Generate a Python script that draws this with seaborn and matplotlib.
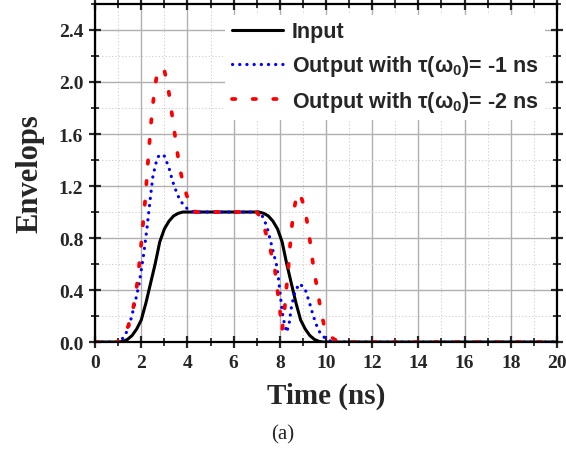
import numpy as np
import pandas as pd
import matplotlib
matplotlib.use("Agg")
import matplotlib.pyplot as plt
import seaborn as sns
from matplotlib.ticker import MultipleLocator

# Input envelope
t_in = [0, 1.0, 1.2, 1.4, 1.6, 1.8, 2.0, 2.2, 2.4, 2.6, 2.8, 3.0, 3.2, 3.4, 3.6, 3.8,
        7.1, 7.3, 7.5, 7.7, 7.9, 8.1, 8.3, 8.5, 8.7, 8.9, 9.1, 9.3, 9.5, 9.7, 9.9, 20]
y_in = [0, 0, 0.005, 0.02, 0.05, 0.1, 0.17, 0.3, 0.45, 0.6, 0.77, 0.87, 0.93, 0.97, 0.99, 1.0,
        1.0, 0.99, 0.97, 0.93, 0.87, 0.77, 0.6, 0.45, 0.3, 0.17, 0.1, 0.05, 0.02, 0.005, 0, 0]

# Output with tau = -1 ns
t_m1 = [0, 1.0, 1.1, 1.3, 1.5, 1.7, 1.9, 2.1, 2.25, 2.4, 2.5, 2.6, 2.7, 2.85, 3.0, 3.2,
        3.35, 3.55, 3.7, 3.9, 4.1, 4.3, 7.1, 7.2, 7.43, 7.58, 7.72, 7.86, 7.94, 8.04,
        8.12, 8.2, 8.3, 8.41, 8.51, 8.66, 8.85, 9.09, 9.28, 9.45, 9.6, 9.77, 10.03, 10.3, 20]
y_m1 = [0, 0, 0.01, 0.05, 0.14, 0.28, 0.44, 0.67, 0.88, 1.12, 1.27, 1.35, 1.42, 1.445, 1.43, 1.34,
        1.24, 1.14, 1.085, 1.04, 1.01, 1.0, 1.0, 0.985, 0.895, 0.79, 0.69, 0.59, 0.49, 0.33,
        0.215, 0.14, 0.075, 0.15, 0.28, 0.39, 0.45, 0.41, 0.305, 0.2, 0.125, 0.06, 0.02, 0, 0]

# Output with tau = -2 ns
t_m2 = [0, 1.0, 1.2, 1.44, 1.66, 1.8, 1.9, 1.98, 2.06, 2.14, 2.2, 2.26, 2.33, 2.39, 2.47,
        2.56, 2.67, 2.85, 3.0, 3.17, 3.29, 3.41, 3.53, 3.65, 3.84, 4.11, 4.35, 7.0, 7.2,
        7.36, 7.58, 7.79, 7.89, 8.0, 8.1, 8.2, 8.27, 8.36, 8.42, 8.49, 8.58, 8.7, 8.82,
        8.95, 9.09, 9.23, 9.35, 9.46, 9.6, 9.74, 9.9, 10.1, 10.32, 10.6, 20]
y_m2 = [0, 0, 0.03, 0.125, 0.27, 0.42, 0.58, 0.72, 0.88, 1.03, 1.16, 1.32, 1.47, 1.62, 1.77,
        1.92, 2.05, 2.11, 2.09, 1.95, 1.80, 1.65, 1.50, 1.35, 1.20, 1.05, 1.0, 1.0, 0.95,
        0.86, 0.72, 0.55, 0.41, 0.25, 0.09, 0.24, 0.39, 0.54, 0.69, 0.84, 0.985, 1.1, 1.15,
        1.1, 1.02, 0.87, 0.72, 0.57, 0.43, 0.28, 0.14, 0.06, 0.025, 0, 0]

labels = ["Input", r"Output with $\mathbf{\tau(\omega_0)}$= -1 ns", r"Output with $\mathbf{\tau(\omega_0)}$= -2 ns"]

sns.set_theme(style="white")
plt.rcParams['font.family'] = ['Liberation Serif', 'DejaVu Serif']
plt.rcParams['mathtext.fontset'] = 'custom'
plt.rcParams['mathtext.rm'] = 'Liberation Sans'
plt.rcParams['mathtext.bf'] = 'Liberation Sans:bold'
plt.rcParams['mathtext.it'] = 'Liberation Sans:italic'

fig = plt.figure(figsize=(5.66, 4.52), dpi=100)
ax = fig.add_axes([0.168, 0.241, 0.816, 0.748])

sns.lineplot(x=t_in, y=y_in, ax=ax, color="black", lw=2.2, sort=False, label=labels[0])
sns.lineplot(x=t_m1, y=y_m1, ax=ax, color="#0000ff", lw=2.3, sort=False, label=labels[1],
             linestyle=(0, (0.05, 2.2)), dash_capstyle="round")
sns.lineplot(x=t_m2, y=y_m2, ax=ax, color="#ff0000", lw=2.7, sort=False, label=labels[2],
             linestyle=(0, (0.9, 4.6)), dash_capstyle="round")

ax.set_xlim(0, 20)
ax.set_ylim(0, 2.6)
ax.xaxis.set_major_locator(MultipleLocator(2))
ax.xaxis.set_minor_locator(MultipleLocator(1))
ax.yaxis.set_major_locator(MultipleLocator(0.4))
ax.yaxis.set_minor_locator(MultipleLocator(0.2))
ax.set_yticks(np.arange(0, 2.41, 0.4))
ax.set_yticklabels([f"{v:.1f}" for v in np.arange(0, 2.41, 0.4)])

ax.grid(which="major", color="#b0b0b0", lw=1.0, ls="-")
ax.grid(which="minor", color="#cccccc", lw=0.8, ls=(0, (1, 2)))
ax.set_axisbelow(True)

for s in ax.spines.values():
    s.set_linewidth(1.6)
    s.set_color("black")

ax.tick_params(which="major", direction="inout", length=9, width=1.6, labelsize=14,
               top=True, right=True, bottom=True, left=True, pad=4)
ax.tick_params(which="minor", direction="inout", length=6, width=1.3,
               top=True, right=True, bottom=True, left=True)
ax.tick_params(axis="both", which="both", labeltop=False, labelright=False)
for lab in ax.get_xticklabels() + ax.get_yticklabels():
    lab.set_fontweight("bold")

ax.set_xlabel("Time (ns)", fontsize=21, fontweight="bold", labelpad=8)
ax.set_ylabel("Envelops", fontsize=22, fontweight="bold", labelpad=10)

leg = ax.legend(loc="upper right", bbox_to_anchor=(0.983, 0.98), frameon=True,
                fancybox=False, framealpha=1, edgecolor="white",
                handlelength=2.4, handletextpad=0.4,
                borderaxespad=0.2, labelspacing=0.5, borderpad=0.3,
                prop={"family": "Liberation Sans", "weight": "bold", "size": 15.5})
leg.get_frame().set_linewidth(0)

fig.text(0.5, 0.037, "(a)", ha="center", va="center", fontsize=15)

fig.savefig("out.png", dpi=100)
